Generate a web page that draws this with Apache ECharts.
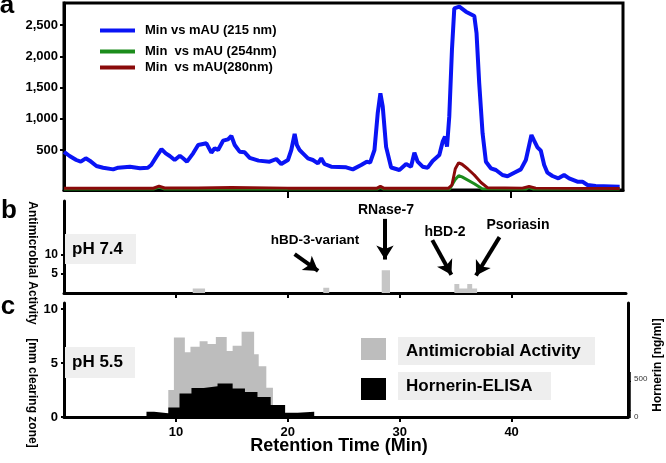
<!DOCTYPE html>
<html><head><meta charset="utf-8">
<script src="https://cdn.jsdelivr.net/npm/echarts@6/dist/echarts.min.js"></script>
<style>html,body{margin:0;padding:0;background:#fff}#c{width:666px;height:463px}</style>
</head><body><div id="c"></div>
<script>
// ---- data ----
const mau215 = [[0,470],[0.5,404],[1.1,340],[1.5,313],[1.95,367],[2.3,329],[2.9,244],[3.5,217],[4.4,190],[4.85,217],[5.9,233],[6.8,207],[7.5,217],[7.8,260],[8.27,393],[8.72,515],[9.1,447],[9.46,404],[9.9,340],[10.36,409],[10.65,367],[11.0,313],[11.55,447],[12.0,580],[12.74,607],[13.18,457],[13.48,527],[13.78,500],[14.23,649],[14.67,671],[14.97,724],[15.27,580],[15.71,473],[16.16,463],[16.61,375],[17.4,330],[18.39,313],[18.99,356],[19.43,276],[20.03,340],[20.33,500],[20.63,756],[20.83,580],[21.07,500],[21.37,447],[21.82,367],[22.26,340],[22.71,287],[23.01,367],[23.3,276],[23.9,233],[25.24,223],[25.83,190],[26.58,260],[27.08,313],[27.38,297],[27.77,500],[28.06,1087],[28.3,1407],[28.51,1193],[28.81,550],[29.26,220],[30.0,180],[30.6,276],[31.04,233],[31.34,457],[31.63,313],[32.08,233],[32.53,217],[32.97,324],[33.57,420],[33.87,633],[34.08,713],[34.26,553],[34.46,1033],[34.7,2100],[34.91,2767],[35.36,2793],[35.95,2713],[36.7,2644],[36.9,2367],[37.14,1567],[37.44,767],[37.74,313],[38.18,207],[38.63,180],[39.22,100],[39.67,80],[40.27,137],[40.86,190],[41.31,340],[41.61,580],[41.81,740],[42.05,649],[42.35,543],[42.65,489],[42.95,260],[43.24,137],[43.69,84],[44.22,47],[44.73,100],[45.18,47],[45.92,-7],[46.37,-7],[46.82,-60],[47.56,-76],[49.7,-87]];
const mau254 = [[0,-125],[8.0,-125],[8.5,-95],[9.0,-125],[28.0,-125],[28.3,-100],[28.6,-125],[34.5,-125],[35.0,30],[35.3,88],[35.6,70],[36.7,-40],[37.4,-120],[41.3,-125],[41.6,-100],[42.0,-125],[49.7,-125]];
const mau280 = [[0,-112],[8.0,-112],[8.5,-78],[9.0,-108],[12,-108],[15,-100],[20,-110],[28.0,-110],[28.3,-82],[28.6,-110],[34.4,-110],[34.7,-60],[35.0,200],[35.3,295],[35.6,272],[36.1,200],[36.7,100],[37.3,-20],[37.9,-105],[41.0,-110],[41.6,-85],[42.2,-110],[49.7,-115]];
const legendNames = ['Min vs mAU (215 nm)', 'Min  vs mAU (254nm)', 'Min  vs mAU(280nm)'];
const yTicksA = [500, 1000, 1500, 2000, 2500];
const xTicks = [10, 20, 30, 40];
// pH 7.4 antimicrobial activity (fraction edges in min, activity per fraction)
const ph74Edges = [0, 11.5, 12.6, 23.16, 23.69, 28.38, 29.12, 34.87, 35.31, 36.02, 36.46, 36.9];
const ph74Activity = [0, 1.2, 0, 1.4, 0, 6.0, 0, 2.4, 1.2, 2.4, 1.2, 0];
// pH 5.5 antimicrobial activity
const ph55Edges = [9.32, 9.82, 10.8, 11.3, 12.12, 12.83, 13.57, 14.54, 15.07, 15.87, 16.99, 17.4, 18.08, 18.67];
const ph55Activity = [2.5, 7.35, 6.0, 6.5, 7.0, 6.75, 7.4, 6.1, 6.6, 7.9, 5.8, 4.7, 2.7, 0];
// Hornerin ELISA (ng/ml)
const elisaEdges = [7.37, 8.05, 9.32, 10.32, 11.39, 12.48, 13.72, 15.07, 16.17, 17.29, 18.47, 19.76, 20.88, 22.36];
const hornerinNgMl = [68, 47, 124, 304, 375, 397, 432, 368, 324, 260, 154, 55, 68, 0];
const peptideLabels = ['hBD-3-variant', 'RNase-7', 'hBD-2', 'Psoriasin'];

// ---- chart ----
const F = '"Liberation Sans", Arial, sans-serif';
function steps(edges, vals) { return edges.map((e, i) => [e, vals[i]]); }
const axisLine = { show: true, onZero: false, lineStyle: { color: '#000', width: 3 } };
const lbl = (size) => ({ fontFamily: F, fontWeight: 'bold', fontSize: size, color: '#000' });

const chart = echarts.init(document.getElementById('c'), null, { renderer: 'canvas' });
chart.setOption({
  animation: false,
  backgroundColor: '#fff',
  grid: [
    { left: 64, top: 3, width: 559, height: 187, show: true, borderColor: '#000', borderWidth: 3, backgroundColor: 'transparent' },
    { left: 64, top: 201, width: 562, height: 92 },
    { left: 64, top: 303, width: 564, height: 114 }
  ],
  xAxis: [
    { gridIndex: 0, type: 'value', min: 0, max: 50, axisLine, splitLine: { show: false },
      axisLabel: { show: false }, axisTick: { show: true, customValues: [20, 40], length: 8, lineStyle: { width: 2, color: '#000' } } },
    { gridIndex: 1, type: 'value', min: 0, max: 50.2, axisLine, splitLine: { show: false },
      axisLabel: { show: false }, axisTick: { show: true, customValues: xTicks, length: 5, lineStyle: { width: 2, color: '#000' } } },
    { gridIndex: 2, type: 'value', min: 0, max: 50.4, axisLine, splitLine: { show: false },
      axisLabel: Object.assign({ customValues: xTicks, margin: 9 }, lbl(13)),
      axisTick: { show: true, customValues: xTicks, length: 5, lineStyle: { width: 2, color: '#000' } } }
  ],
  yAxis: [
    { gridIndex: 0, type: 'value', min: -140, max: 2852, axisLine, splitLine: { show: false },
      axisLabel: Object.assign({ customValues: yTicksA, margin: 6, formatter: v => v.toLocaleString('en-US') }, lbl(13)),
      axisTick: { show: true, customValues: yTicksA, length: 4, lineStyle: { width: 2, color: '#000' } } },
    { gridIndex: 1, type: 'value', min: 0, max: 24.2, axisLine, splitLine: { show: false },
      axisLabel: Object.assign({ customValues: [5, 10], margin: 6 }, lbl(12)),
      axisTick: { show: true, customValues: [5, 10], length: 3, lineStyle: { width: 2, color: '#000' } } },
    { gridIndex: 2, type: 'value', min: 0, max: 10.55, axisLine, splitLine: { show: false },
      axisLabel: Object.assign({ customValues: [0, 5, 10], margin: 6 }, lbl(13)),
      axisTick: { show: true, customValues: [0, 5, 10], length: 3, lineStyle: { width: 2, color: '#000' } } },
    { gridIndex: 2, type: 'value', position: 'right', min: 0, max: 1475, axisLine, splitLine: { show: false },
      axisLabel: { customValues: [0, 500], fontFamily: F, fontSize: 8, color: '#333', margin: 6 },
      axisTick: { show: true, customValues: [0,25,50,75,100,125,150,175,200,225,250,275,300,325,350,375,400,425,450,475,500,525,550,575], length: 3, lineStyle: { width: 1.5, color: '#000' } } }
  ],
  legend: [
    { data: [legendNames[0]], left: 100, top: 24 },
    { data: [legendNames[1]], left: 100, top: 45 },
    { data: [legendNames[2]], left: 100, top: 61 }
  ].map(l => Object.assign(l, { icon: 'rect', itemWidth: 35, itemHeight: 4, padding: 0,
      textStyle: Object.assign({ padding: [0, 0, 0, 5] }, lbl(13)) })),
  series: [
    { name: legendNames[0], type: 'line', xAxisIndex: 0, yAxisIndex: 0, data: mau215, showSymbol: false, z: 3,
      color: '#0a14f5', lineStyle: { width: 4, color: '#0a14f5' } },
    { name: legendNames[1], type: 'line', xAxisIndex: 0, yAxisIndex: 0, data: mau254, showSymbol: false, z: 4,
      color: '#1c8c1c', lineStyle: { width: 3, color: '#1c8c1c' } },
    { name: legendNames[2], type: 'line', xAxisIndex: 0, yAxisIndex: 0, data: mau280, showSymbol: false, z: 5,
      color: '#8a0a0a', lineStyle: { width: 3, color: '#8a0a0a' } },
    { name: 'pH 7.4 activity', type: 'line', step: 'end', xAxisIndex: 1, yAxisIndex: 1, data: steps(ph74Edges, ph74Activity),
      showSymbol: false, lineStyle: { opacity: 0, width: 0 }, areaStyle: { color: '#c6c6c6', opacity: 1 }, z: 2,
      markLine: { silent: true, animation: false, symbol: ['none', 'arrow'], symbolSize: [13, 14],
        label: { show: false }, lineStyle: { color: '#000', width: 4, type: 'solid' },
        data: [
          [{ coord: [20.6, 10.2] }, { coord: [22.7, 5.8] }],
          [{ coord: [28.67, 19.5] }, { coord: [28.67, 8.8] }],
          [{ coord: [32.9, 13.9] }, { coord: [34.6, 4.8] }],
          [{ coord: [38.9, 14.7] }, { coord: [36.8, 4.6] }]
        ] } },
    { name: 'Antimicrobial Activity', type: 'line', step: 'end', xAxisIndex: 2, yAxisIndex: 2, data: steps(ph55Edges, ph55Activity),
      showSymbol: false, lineStyle: { opacity: 0, width: 0 }, areaStyle: { color: '#bdbdbd', opacity: 1 }, z: 2 },
    { name: 'Hornerin-ELISA', type: 'line', step: 'end', xAxisIndex: 2, yAxisIndex: 3, data: steps(elisaEdges, hornerinNgMl),
      showSymbol: false, lineStyle: { opacity: 0, width: 0 }, areaStyle: { color: '#000', opacity: 1 }, z: 3 }
  ],
  graphic: [
    { type: 'text', x: 7, y: 6, style: { text: 'a', textAlign: 'center', textVerticalAlign: 'middle', font: 'bold 26px ' + F, fill: '#000' } },
    { type: 'text', x: 9, y: 211, style: { text: 'b', textAlign: 'center', textVerticalAlign: 'middle', font: 'bold 26px ' + F, fill: '#000' } },
    { type: 'text', x: 8, y: 307, style: { text: 'c', textAlign: 'center', textVerticalAlign: 'middle', font: 'bold 26px ' + F, fill: '#000' } },
    { type: 'rect', shape: { x: 65, y: 234, width: 71, height: 30 }, style: { fill: '#efefef' }, z: 1 },
    { type: 'text', x: 72, y: 249, style: { text: 'pH 7.4', textVerticalAlign: 'middle', font: 'bold 17px ' + F, fill: '#000' }, z: 2 },
    { type: 'rect', shape: { x: 65, y: 347, width: 70, height: 31 }, style: { fill: '#efefef' }, z: 1 },
    { type: 'text', x: 72, y: 362, style: { text: 'pH 5.5', textVerticalAlign: 'middle', font: 'bold 17px ' + F, fill: '#000' }, z: 2 },
    { type: 'text', x: 315, y: 240, style: { text: peptideLabels[0], textAlign: 'center', textVerticalAlign: 'middle', font: 'bold 13.5px ' + F, fill: '#000' } },
    { type: 'text', x: 386, y: 210, style: { text: peptideLabels[1], textAlign: 'center', textVerticalAlign: 'middle', font: 'bold 14px ' + F, fill: '#000' } },
    { type: 'text', x: 445, y: 232, style: { text: peptideLabels[2], textAlign: 'center', textVerticalAlign: 'middle', font: 'bold 14px ' + F, fill: '#000' } },
    { type: 'text', x: 518, y: 225, style: { text: peptideLabels[3], textAlign: 'center', textVerticalAlign: 'middle', font: 'bold 14px ' + F, fill: '#000' } },
    { type: 'text', x: 32, y: 263, rotation: -Math.PI / 2, style: { text: 'Antimicrobial Activity', textAlign: 'center', textVerticalAlign: 'middle', font: 'bold 12px ' + F, fill: '#000' } },
    { type: 'text', x: 32, y: 393, rotation: -Math.PI / 2, style: { text: '[mm clearing zone]', textAlign: 'center', textVerticalAlign: 'middle', font: 'bold 12px ' + F, fill: '#000' } },
    { type: 'text', x: 658, y: 365, rotation: Math.PI / 2, style: { text: 'Hornerin [ng/ml]', textAlign: 'center', textVerticalAlign: 'middle', font: 'bold 12px ' + F, fill: '#000' } },
    { type: 'text', x: 339, y: 446, style: { text: 'Retention Time (Min)', textAlign: 'center', textVerticalAlign: 'middle', font: 'bold 18px ' + F, fill: '#000' } },
    { type: 'rect', shape: { x: 361, y: 338, width: 25, height: 22 }, style: { fill: '#bdbdbd' } },
    { type: 'rect', shape: { x: 361, y: 378, width: 25, height: 22 }, style: { fill: '#000' } },
    { type: 'rect', shape: { x: 398, y: 337, width: 197, height: 28 }, style: { fill: '#eeeeee' } },
    { type: 'rect', shape: { x: 398, y: 372, width: 153, height: 28 }, style: { fill: '#eeeeee' } },
    { type: 'text', x: 406, y: 351, style: { text: 'Antimicrobial Activity', textVerticalAlign: 'middle', font: 'bold 17px ' + F, fill: '#000' }, z: 2 },
    { type: 'text', x: 406, y: 386, style: { text: 'Hornerin-ELISA', textVerticalAlign: 'middle', font: 'bold 17px ' + F, fill: '#000' }, z: 2 }
  ]
});
</script></body></html>
